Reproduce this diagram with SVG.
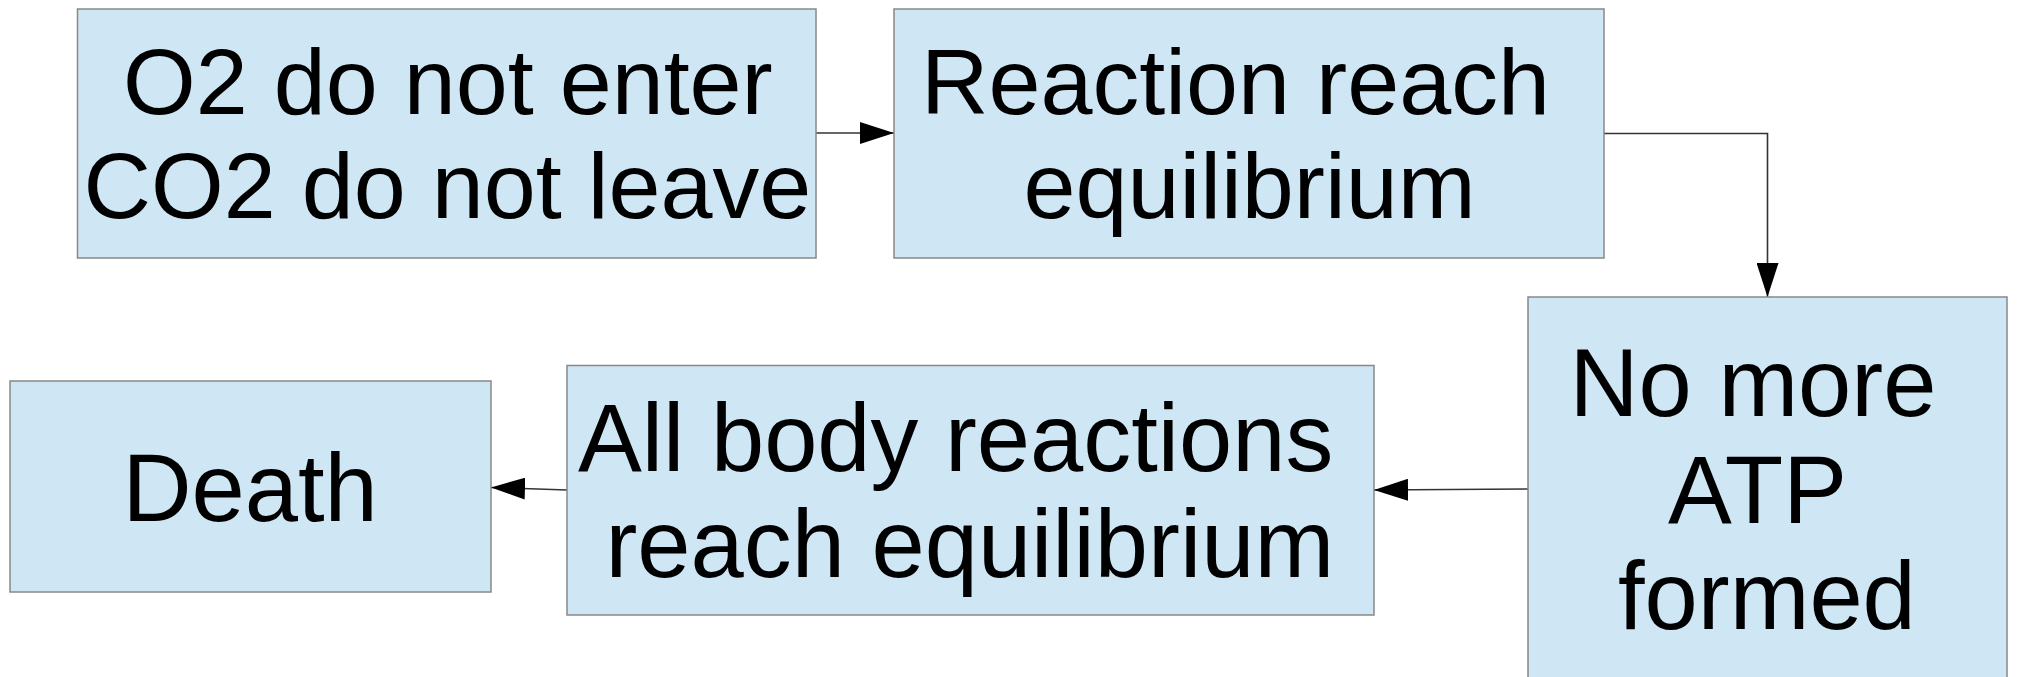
<svg xmlns="http://www.w3.org/2000/svg" width="2018" height="677" viewBox="0 0 2018 677">
<style>
.box{fill:#cfe6f4;stroke:#888888;stroke-width:1.5}
.t{font-family:"Liberation Sans",Arial,sans-serif;font-size:93.5px;fill:#000}
.b{font-size:95.7px}
.c{fill:none;stroke:#333333;stroke-width:1.6}
</style>
<defs>
<marker id="ah" markerUnits="userSpaceOnUse" markerWidth="34" markerHeight="22" refX="34" refY="11" orient="auto" viewBox="0 0 34 22">
<path d="M0,0 L34,11 L0,22 z" fill="#000"/>
</marker>
</defs>
<rect width="2018" height="677" fill="#ffffff"/>
<g id="connectors">
<path class="c" d="M816,133 L894,133" marker-end="url(#ah)"/>
<path class="c" d="M1604,133.5 L1767.5,133.5 L1767.5,297" marker-end="url(#ah)"/>
<path class="c" d="M1528,489 L1374,490" marker-end="url(#ah)"/>
<path class="c" d="M567,490 L491,487.5" marker-end="url(#ah)"/>
</g>
<g id="node1">
<rect class="box" x="77.5" y="9" width="738.5" height="249"/>
<text class="t" x="123" y="114">O2 do not enter</text>
<text class="t" x="83.5" y="218">CO2 do not leave</text>
</g>
<g id="node2">
<rect class="box" x="894" y="9" width="710" height="249"/>
<text class="t" x="921" y="114">Reaction reach</text>
<text class="t" x="1023.5" y="218">equilibrium</text>
</g>
<g id="node3">
<rect class="box" x="1528" y="297" width="479" height="400"/>
<text class="t b" x="1569.5" y="416">No more</text>
<text class="t b" x="1668" y="523">ATP</text>
<text class="t b" x="1618" y="629">formed</text>
</g>
<g id="node4">
<rect class="box" x="567" y="365.5" width="807" height="249.5"/>
<text class="t b" x="578" y="471">All body reactions</text>
<text class="t b" x="605.5" y="577">reach equilibrium</text>
</g>
<g id="node5">
<rect class="box" x="10" y="381" width="481" height="211"/>
<text class="t b" x="122.5" y="521">Death</text>
</g>
</svg>
